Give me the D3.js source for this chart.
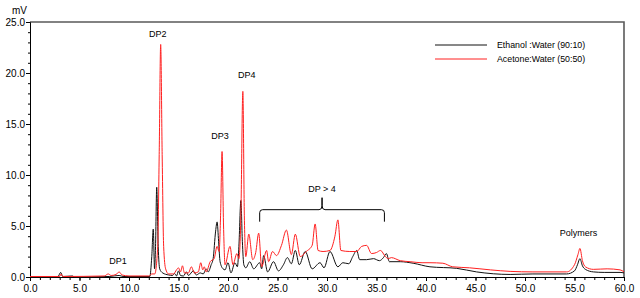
<!DOCTYPE html>
<html>
<head>
<meta charset="utf-8">
<script src="https://cdn.jsdelivr.net/npm/d3@7"></script>
<style>
    body { margin: 0; background: #fff; }
    svg { display: block; font-family: "Liberation Sans", Arial, sans-serif; }
</style>
</head>
<body>
<svg id="chart" width="640" height="298"></svg>
<script>
// retention time (min) / signal (mV) pairs
const ethanolWater = [
    [0, 0], [2.8, 0], [3.1, 0.45], [3.3, 0.05], [4.3, 0.1], [4.5, 0], [8, 0.05], [9.0, 0.15], [9.4, 0.05],
    [12.1, 0.05], [12.3, 2.0], [12.45, 4.7], [12.58, 0.8], [12.68, 3.0], [12.8, 8.8], [12.95, 3.0], [13.1, 0.8],
    [13.4, 0.4], [14.0, 0.2], [14.4, 0.15], [14.6, 0.35], [14.8, 0.1], [15.0, 0.6], [15.2, 0.15], [15.5, 0.1],
    [15.8, 0.5], [16.0, 0.15], [16.5, 0.6], [16.8, 0.2], [17.2, 0.4], [17.5, 0.3], [17.8, 0.8], [18.0, 0.5],
    [18.3, 1.2], [18.5, 1.8], [18.75, 4.5], [18.9, 5.4], [19.05, 3.5], [19.2, 1.5], [19.5, 0.8], [19.7, 0.7],
    [20.0, 1.4], [20.3, 0.4], [20.7, 1.4], [20.95, 1.0], [21.1, 3.0], [21.3, 7.5], [21.45, 3.5], [21.6, 1.2],
    [21.8, 0.9], [22.2, 1.5], [22.6, 0.8], [23.2, 1.4], [23.4, 0.8], [23.6, 2.1], [24.0, 0.5], [24.6, 1.5],
    [25.1, 0.6], [25.6, 1.2], [26.0, 1.9], [26.4, 1.3], [26.8, 2.6], [27.2, 1.2], [27.8, 2.5], [28.5, 0.8],
    [29.3, 1.4], [29.7, 0.9], [30.3, 2.5], [31.1, 1.0], [31.6, 1.4], [32.2, 1.3], [32.6, 2.0], [33.0, 2.6],
    [33.3, 1.7], [34.0, 1.7], [34.7, 1.8], [35.3, 1.6], [35.7, 1.9], [36.0, 2.3], [36.3, 1.5], [37.4, 1.5],
    [38.7, 1.35], [40.4, 1.0], [43.1, 0.85], [45.1, 0.5], [48.5, 0.25], [50.8, 0.3], [54.2, 0.3], [55.0, 0.6],
    [55.3, 1.2], [55.55, 1.8], [55.8, 1.1], [56.1, 0.75], [56.9, 0.5], [58, 0.45], [59.6, 0.45], [60, 0.4]
];

const acetoneWater = [
    [0, 0.05], [3.0, 0.05], [3.15, 0.3], [3.3, 0.05], [7.5, 0.1], [7.9, 0.3], [8.2, 0.15], [8.7, 0.25],
    [9.0, 0.5], [9.3, 0.2], [10, 0.1], [12.0, 0.1], [12.3, 0.3], [12.6, 0.3], [12.9, 3.0], [13.05, 12],
    [13.2, 22.8], [13.35, 12], [13.5, 3.0], [13.7, 0.8], [14.0, 0.3], [14.5, 0.3], [14.8, 0.7], [15.0, 0.9],
    [15.2, 0.5], [15.4, 1.1], [15.6, 0.4], [16.0, 0.4], [16.3, 1.0], [16.6, 0.4], [17.0, 0.5], [17.25, 1.4],
    [17.45, 0.7], [17.6, 1.0], [17.8, 0.5], [18.2, 1.5], [18.6, 1.8], [18.9, 3.0], [19.1, 2.5], [19.25, 6],
    [19.4, 12.3], [19.55, 5], [19.7, 1.2], [20.2, 3.0], [20.5, 1.2], [20.9, 2.3], [21.1, 1.8], [21.3, 6],
    [21.5, 18.2], [21.65, 6], [21.8, 2.0], [22.1, 4.2], [22.5, 1.7], [22.8, 2.4], [23.1, 4.3], [23.4, 1.0],
    [23.9, 2.6], [24.1, 1.5], [24.5, 2.5], [24.9, 2.1], [25.4, 3.1], [25.9, 4.6], [26.4, 2.2], [26.8, 4.2],
    [27.3, 2.0], [27.9, 2.5], [28.5, 3.1], [28.8, 5.2], [29.1, 2.6], [29.6, 2.5], [30.3, 2.6], [30.8, 4.0],
    [31.1, 5.6], [31.4, 2.6], [32.3, 2.5], [33.0, 2.5], [33.5, 3.0], [34.0, 3.1], [34.5, 2.3], [35.0, 2.4],
    [35.4, 2.6], [35.9, 2.0], [36.2, 1.8], [36.5, 1.9], [37.4, 1.6], [38.4, 1.5], [39.6, 1.4], [40.4, 1.4],
    [41.7, 1.35], [42.7, 1.0], [44.4, 0.9], [46.5, 0.7], [48.5, 0.55], [50.8, 0.5], [54.2, 0.5], [55.0, 1.2],
    [55.35, 2.2], [55.55, 2.8], [55.8, 1.6], [56.1, 1.0], [56.9, 0.75], [58.3, 0.8], [59.6, 0.7], [60, 0.5]
];

const seriesNames = ["Ethanol :Water (90:10)", "Acetone:Water (50:50)"];
const seriesColors = ["#111111", "#ff2020"];

const xTicks = [0, 5, 10, 15, 20, 25, 30, 35, 40, 45, 50, 55, 60];
const yTicks = [0, 5, 10, 15, 20, 25];

// peak labels: [time, mV, text]
const peakLabels = [
    [8.9, 1.25, "DP1"],
    [12.9, 23.5, "DP2"],
    [19.2, 13.5, "DP3"],
    [21.9, 19.5, "DP4"],
    [55.4, 4.0, "Polymers"]
];
// brace over the DP > 4 region: [start, end] time
const braceSpan = [23.2, 35.8];

const svg = d3.select("#chart");
const margin = {left: 30, top: 22, right: 16, bottom: 21};
const width = 640 - margin.left - margin.right;
const height = 298 - margin.top - margin.bottom;

const x = d3.scaleLinear().domain([0, 60]).range([margin.left, margin.left + width]);
const y = d3.scaleLinear().domain([0, 25]).range([margin.top + height, margin.top]);

// frame (top and right sides are grey)
svg.append("path")
    .attr("d", `M${x(0)},${y(25)}H${x(60)}V${y(0)}`)
    .attr("fill", "none")
    .attr("stroke", "#5a5a5a")
    .attr("stroke-width", 1.6);

// minor ticks
svg.append("g")
    .attr("transform", "translate(0," + y(0) + ")")
    .call(d3.axisBottom(x).tickValues(d3.range(0, 61, 1)).tickSize(3).tickFormat(""))
    .call(g => g.select(".domain").remove());
svg.append("g")
    .attr("transform", "translate(" + x(0) + ",0)")
    .call(d3.axisLeft(y).tickValues(d3.range(0, 26, 1)).tickSize(2).tickFormat(""))
    .call(g => g.select(".domain").remove());

const xAxis = svg.append("g")
    .attr("transform", "translate(0," + y(0) + ")")
    .call(d3.axisBottom(x).tickValues(xTicks).tickSize(4).tickPadding(4).tickFormat(d3.format(".1f")));
const yAxis = svg.append("g")
    .attr("transform", "translate(" + x(0) + ",0)")
    .call(d3.axisLeft(y).tickValues(yTicks).tickSize(4).tickPadding(1).tickFormat(d3.format(".1f")));

[xAxis, yAxis].forEach(a => {
    a.selectAll("text").style("font-size", "10px").attr("fill", "#000");
    a.selectAll("line, path").attr("stroke", "#000");
});

svg.append("text")
    .attr("x", 12)
    .attr("y", 14)
    .style("font-size", "10px")
    .text("mV");

const line = d3.line()
    .x(d => x(d[0]))
    .y(d => y(d[1]))
    .curve(d3.curveMonotoneX);

[ethanolWater, acetoneWater].forEach((series, i) => {
    svg.append("path")
        .datum(series)
        .attr("fill", "none")
        .attr("stroke", seriesColors[i])
        .attr("stroke-width", 1)
        .attr("d", line);
});

// legend
const legend = svg.append("g").attr("transform", "translate(435,45)");
seriesNames.forEach((name, i) => {
    legend.append("line")
        .attr("x1", 0).attr("x2", 52)
        .attr("y1", i * 14).attr("y2", i * 14)
        .attr("stroke", seriesColors[i])
        .attr("stroke-width", 1);
    legend.append("text")
        .attr("x", 62)
        .attr("y", i * 14 + 3)
        .style("font-size", "8.8px")
        .text(name);
});

// peak annotations
svg.selectAll(".peak")
    .data(peakLabels)
    .enter()
    .append("text")
    .attr("class", "peak")
    .attr("x", d => x(d[0]))
    .attr("y", d => y(d[1]))
    .attr("text-anchor", "middle")
    .style("font-size", "9px")
    .text(d => d[2]);

const bx0 = x(braceSpan[0]), bx1 = x(braceSpan[1]);
const bm = (bx0 + bx1) / 2;
const by = y(6.6);
svg.append("path")
    .attr("d", `M${bx0},${by + 12}V${by + 3}Q${bx0},${by} ${bx0 + 3},${by}`
        + `H${bm - 3}Q${bm},${by} ${bm},${by - 4}V${by - 12}V${by - 4}Q${bm},${by} ${bm + 3},${by}`
        + `H${bx1 - 3}Q${bx1},${by} ${bx1},${by + 3}V${by + 12}`)
    .attr("fill", "none")
    .attr("stroke", "#000")
    .attr("stroke-width", 1);
svg.append("text")
    .attr("x", bm)
    .attr("y", by - 18)
    .attr("text-anchor", "middle")
    .style("font-size", "9px")
    .text("DP > 4");
</script>
</body>
</html>
